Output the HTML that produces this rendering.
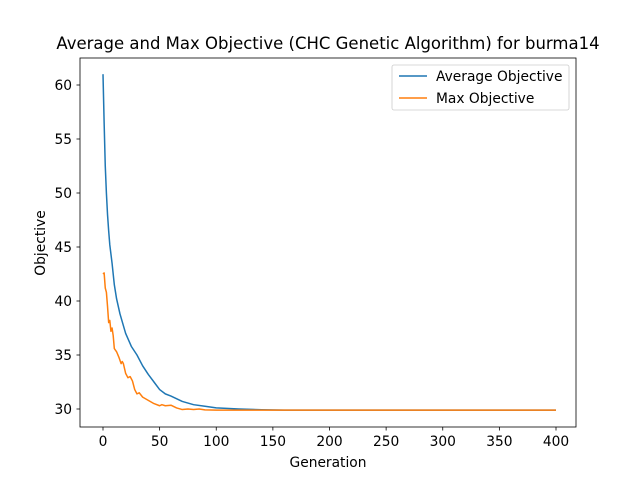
<!DOCTYPE html>
<html><head><meta charset="utf-8"><style>body{margin:0;background:#fff}svg{font-family:"DejaVu Sans","Liberation Sans",sans-serif}</style></head>
<body>
<svg id="c" width="640" height="480" xmlns="http://www.w3.org/2000/svg">
<rect width="640" height="480" fill="#fff"/>
<text x="328" y="49" font-size="16.5" text-anchor="middle">Average and Max Objective (CHC Genetic Algorithm) for burma14</text>
<g id="plot"></g>
<rect x="80" y="58" width="496" height="369" fill="none" stroke="#000" stroke-width="0.8"/>
<text x="328" y="467" font-size="13.8" text-anchor="middle">Generation</text>
<text x="0" y="0" font-size="13.8" text-anchor="middle" transform="translate(45,243) rotate(-90)">Objective</text>
<g>
<rect x="392" y="65" width="177" height="45" rx="2" fill="#fff" stroke="#ccc" stroke-width="0.8"/>
<line x1="399" y1="76" x2="427" y2="76" stroke="#1f77b4" stroke-width="1.5"/>
<text x="436" y="81" font-size="13.8">Average Objective</text>
<line x1="399" y1="98" x2="427" y2="98" stroke="#ff7f0e" stroke-width="1.5"/>
<text x="436" y="103" font-size="13.8">Max Objective</text>
</g>
</svg>
<script>
const avgGen=[0,1,2,3,4,5,6,8,10,12,15,20,25,30,35,40,45,50,55,60,70,80,90,100,120,140,160,200,400];
const avgVal=[61,56.5,52.5,50,48,46.5,45.2,43.5,41.5,40.2,38.8,37,35.8,35,34,33.2,32.5,31.8,31.4,31.2,30.7,30.4,30.25,30.1,30.0,29.93,29.9,29.9,29.9];
const maxGen=[0,1,2,3,4,5,6,7,8,9,10,12,14,16,17,18,20,22,24,26,28,30,32,35,40,45,50,52,55,60,65,70,75,80,85,90,100,400];
const maxVal=[42.5,42.6,41.2,40.8,39.5,38.0,38.2,37.2,37.5,36.8,35.6,35.3,34.8,34.2,34.4,34.2,33.3,32.9,33.0,32.6,31.8,31.4,31.5,31.1,30.8,30.5,30.3,30.4,30.3,30.35,30.1,29.95,30.0,29.95,30.0,29.92,29.9,29.9];
const xTicks=[0,50,100,150,200,250,300,350,400];
const yTicks=[30,35,40,45,50,55,60];
const sx=v=>103+v*(453/400);
const sy=v=>409-(v-30)*10.8;
const NS="http://www.w3.org/2000/svg";
const g=document.getElementById('plot');
function mk(t,a){const e=document.createElementNS(NS,t);for(const k in a)e.setAttribute(k,a[k]);g.appendChild(e);return e;}
xTicks.forEach(t=>{
 const l=mk('line',{x1:sx(t),x2:sx(t),y1:427,y2:430.5,stroke:'#000','stroke-width':0.8});
 
 
 const tx=mk('text',{x:sx(t),y:446,'font-size':13.8,'text-anchor':'middle'});tx.textContent=t;
 
 
});
yTicks.forEach(t=>{
 const l=mk('line',{x1:76.5,x2:80,y1:sy(t),y2:sy(t),stroke:'#000','stroke-width':0.8});
 
 
 const tx=mk('text',{x:72,y:sy(t)+5,'font-size':13.8,'text-anchor':'end'});tx.textContent=t;
 
 
});
function line(xs,ys,c,name){
 const p=mk('polyline',{points:xs.map((x,i)=>sx(x)+','+sy(ys[i])).join(' '),fill:'none',stroke:c,'stroke-width':1.5,'stroke-linejoin':'round'});
 
 
}
line(avgGen,avgVal,'#1f77b4','average-objective-line');
line(maxGen,maxVal,'#ff7f0e','max-objective-line');
</script>
</body></html>
